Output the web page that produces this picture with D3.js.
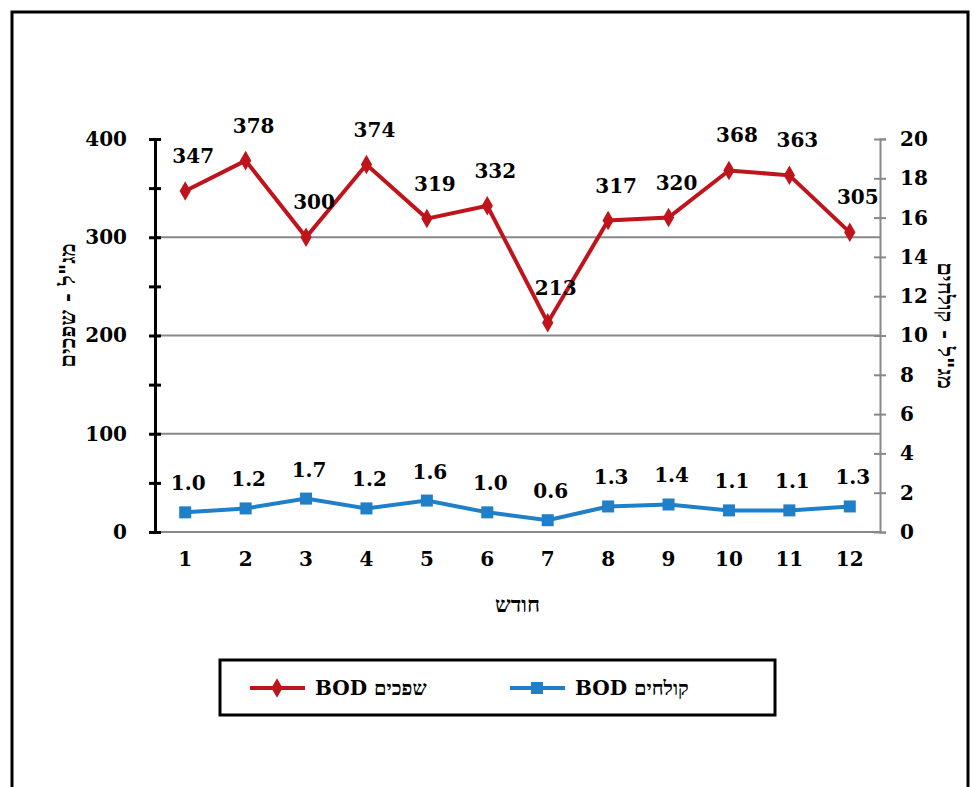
<!DOCTYPE html>
<html>
<head>
<meta charset="utf-8">
<script src="https://d3js.org/d3.v7.min.js"></script>
<style>
  body { margin: 0; background: #fff; }
  text { font-family: "DejaVu Serif", serif; font-weight: bold; }
</style>
</head>
<body>
<svg></svg>
<script>
const months = [1, 2, 3, 4, 5, 6, 7, 8, 9, 10, 11, 12];
const sewage = [347, 378, 300, 374, 319, 332, 213, 317, 320, 368, 363, 305];
const effluent = [1.0, 1.2, 1.7, 1.2, 1.6, 1.0, 0.6, 1.3, 1.4, 1.1, 1.1, 1.3];
const leftTicks = [0, 100, 200, 300, 400];
const rightTicks = [0, 2, 4, 6, 8, 10, 12, 14, 16, 18, 20];

const svg = d3.select('svg').attr('width', 974).attr('height', 787);
const width = 974, height = 787;
const red = '#c0141c', blue = '#1f7fc8';

// outer frame
svg.append('rect').attr('x', 12).attr('y', 12).attr('width', 956).attr('height', 800)
  .attr('fill', 'none').attr('stroke', '#000').attr('stroke-width', 3);

const margin = { left: 155, top: 139, right: 94, bottom: 255 };
const innerW = width - margin.left - margin.right;
const innerH = height - margin.top - margin.bottom;
const g = svg.append('g').attr('transform', `translate(${margin.left},${margin.top})`);

const x = d3.scaleBand().domain(months).range([0, innerW]);
const cx = d => x(d) + x.bandwidth() / 2;
const yL = d3.scaleLinear().domain([0, 400]).range([innerH, 0]);
const yR = d3.scaleLinear().domain([0, 20]).range([innerH, 0]);

// gridlines
g.selectAll('.grid').data([100, 200, 300]).enter().append('line')
  .attr('x1', 0).attr('x2', innerW).attr('y1', d => yL(d)).attr('y2', d => yL(d))
  .attr('stroke', '#888').attr('stroke-width', 2);

// bottom axis line
g.append('line').attr('x1', 0).attr('x2', innerW).attr('y1', innerH).attr('y2', innerH)
  .attr('stroke', '#888').attr('stroke-width', 2);

// left axis
const yAxisL = d3.axisLeft(yL).tickValues(d3.range(0, 401, 50)).tickSize(6).tickPadding(22)
  .tickFormat(d => leftTicks.includes(d) ? d : '');
const lg = g.append('g').call(yAxisL);
lg.select('.domain').attr('stroke', '#000').attr('stroke-width', 3);
lg.selectAll('.tick line').attr('stroke', '#000').attr('stroke-width', 3).attr('x2', 6).attr('x1', -6);
lg.selectAll('.tick text').attr('font-size', 20).attr('fill', '#000');

// right axis
const yAxisR = d3.axisRight(yR).tickValues(rightTicks).tickSize(6).tickPadding(14);
const rg = g.append('g').attr('transform', `translate(${innerW},0)`).call(yAxisR);
rg.select('.domain').attr('stroke', '#888').attr('stroke-width', 2);
rg.selectAll('.tick line').attr('stroke', '#888').attr('stroke-width', 2).attr('x1', -6);
rg.selectAll('.tick text').attr('font-size', 20).attr('fill', '#000');

// x axis labels
const xAxis = d3.axisBottom(x).tickSize(0).tickPadding(20);
const xg = g.append('g').attr('transform', `translate(0,${innerH})`).call(xAxis);
xg.select('.domain').remove();
xg.selectAll('.tick text').attr('font-size', 20).attr('fill', '#000');

// axis titles
g.append('text').attr('transform', `translate(-80,${innerH / 2 - 30}) rotate(-90)`)
  .attr('text-anchor', 'middle').attr('font-size', 22).attr('font-family', 'DejaVu Sans')
  .attr('direction', 'rtl').text('מג"ל - שפכים');
g.append('text').attr('transform', `translate(${innerW + 58},${innerH / 2 - 10}) rotate(90)`)
  .attr('text-anchor', 'middle').attr('font-size', 22).attr('font-family', 'DejaVu Sans')
  .attr('direction', 'rtl').text('מג"ל - קולחים');
g.append('text').attr('x', innerW / 2).attr('y', innerH + 80).attr('text-anchor', 'middle')
  .attr('font-size', 22).attr('font-family', 'DejaVu Sans').text('חודש');

// red series
g.append('path').datum(sewage)
  .attr('d', d3.line().x((d, i) => cx(months[i])).y(d => yL(d)))
  .attr('fill', 'none').attr('stroke', red).attr('stroke-width', 4);
g.selectAll('.dia').data(sewage).enter().append('path')
  .attr('transform', (d, i) => `translate(${cx(months[i])},${yL(d)})`)
  .attr('d', d3.symbol(d3.symbolDiamond, 110)).attr('fill', red);
g.selectAll('.rl').data(sewage).enter().append('text')
  .attr('x', (d, i) => cx(months[i]) + 8).attr('y', d => yL(d) - 28)
  .attr('text-anchor', 'middle').attr('font-size', 20).text(d => d);

// blue series
g.append('path').datum(effluent)
  .attr('d', d3.line().x((d, i) => cx(months[i])).y(d => yR(d)))
  .attr('fill', 'none').attr('stroke', blue).attr('stroke-width', 4);
g.selectAll('.sq').data(effluent).enter().append('rect')
  .attr('x', (d, i) => cx(months[i]) - 6).attr('y', d => yR(d) - 6)
  .attr('width', 12).attr('height', 12).attr('fill', blue);
g.selectAll('.bl').data(effluent).enter().append('text')
  .attr('x', (d, i) => cx(months[i]) + 3).attr('y', d => yR(d) - 22)
  .attr('text-anchor', 'middle').attr('font-size', 20).text(d => d.toFixed(1));

// legend
const leg = svg.append('g');
leg.append('rect').attr('x', 220).attr('y', 660).attr('width', 555).attr('height', 55)
  .attr('fill', '#fff').attr('stroke', '#000').attr('stroke-width', 3);
leg.append('line').attr('x1', 250).attr('x2', 305).attr('y1', 688).attr('y2', 688).attr('stroke', red).attr('stroke-width', 4);
leg.append('path').attr('transform', 'translate(277,688)').attr('d', d3.symbol(d3.symbolDiamond, 110)).attr('fill', red);
leg.append('text').attr('x', 315).attr('y', 695).attr('font-size', 20).attr('direction', 'rtl')
  .attr('text-anchor', 'end').attr('font-family', 'DejaVu Sans').text('שפכים BOD');
leg.append('line').attr('x1', 510).attr('x2', 565).attr('y1', 688).attr('y2', 688).attr('stroke', blue).attr('stroke-width', 4);
leg.append('rect').attr('x', 531).attr('y', 682).attr('width', 12).attr('height', 12).attr('fill', blue);
leg.append('text').attr('x', 575).attr('y', 695).attr('font-size', 20).attr('direction', 'rtl')
  .attr('text-anchor', 'end').attr('font-family', 'DejaVu Sans').text('קולחים BOD');
</script>
</body>
</html>
